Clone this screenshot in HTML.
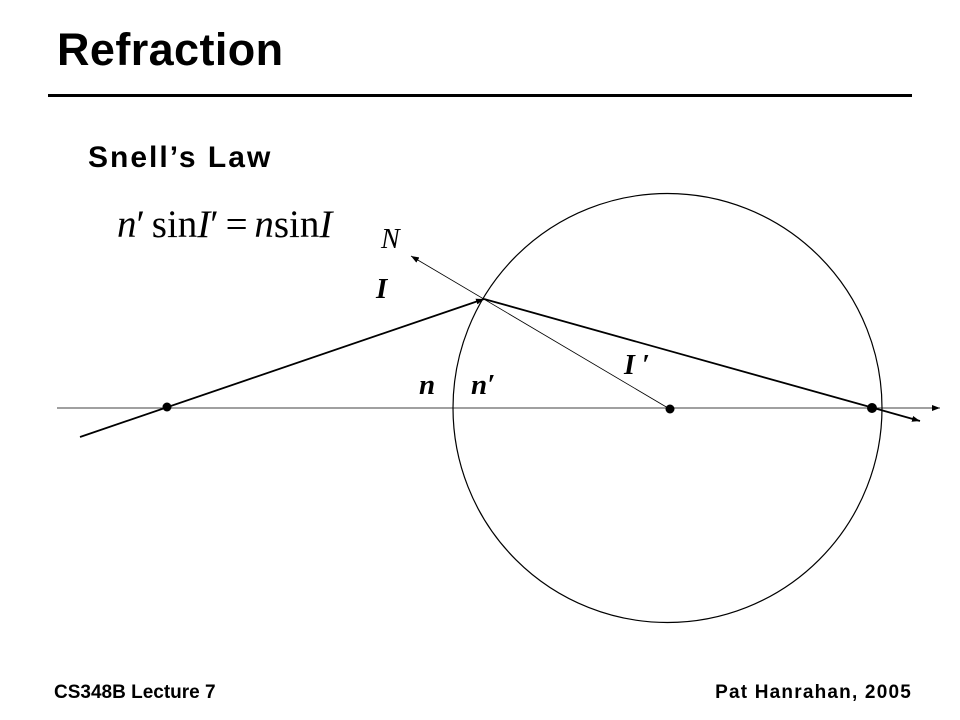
<!DOCTYPE html>
<html><head><meta charset="utf-8"><style>
html,body{margin:0;padding:0;background:#fff;}
body{width:960px;height:720px;position:relative;overflow:hidden;font-family:"Liberation Sans",sans-serif;}
.t{position:absolute;white-space:nowrap;color:#000;}
</style></head><body>
<div class="t" style="left:57px;top:24px;font-size:45px;font-weight:bold;letter-spacing:0.4px;">Refraction</div>
<div style="position:absolute;left:48px;top:94px;width:864px;height:3px;background:#000;"></div>
<div class="t" style="left:88px;top:141px;font-size:30px;font-weight:bold;letter-spacing:2px;">Snell’s Law</div>
<div class="t" style="left:117px;top:202px;font-size:39px;font-family:'Liberation Serif',serif;word-spacing:-3px;"><i>n</i>′ sin<i>I</i>′ = <i>n</i>sin<i>I</i></div>
<div class="t" style="left:54px;top:682px;font-size:19px;font-weight:bold;letter-spacing:0px;">CS348B Lecture 7</div>
<div class="t" style="right:48px;top:682px;font-size:19px;font-weight:bold;letter-spacing:1.2px;">Pat Hanrahan, 2005</div>
<svg width="960" height="720" style="position:absolute;left:0;top:0;" font-family="Liberation Serif, serif">
<defs>
<marker id="a" markerWidth="8" markerHeight="6" refX="8" refY="3" orient="auto" markerUnits="userSpaceOnUse"><path d="M0,0 L8,3 L0,6z" fill="#000"/></marker>
</defs>
<circle cx="667.5" cy="408" r="214.5" fill="none" stroke="#000" stroke-width="1.2"/>
<line x1="57" y1="408" x2="940" y2="408" stroke="#000" stroke-width="0.8" marker-end="url(#a)"/>
<line x1="668" y1="408" x2="411" y2="256" stroke="#000" stroke-width="0.8" marker-end="url(#a)"/>
<line x1="80" y1="437" x2="484" y2="299" stroke="#000" stroke-width="1.8" marker-end="url(#a)"/>
<line x1="484" y1="299" x2="920" y2="421" stroke="#000" stroke-width="1.8" marker-end="url(#a)"/>
<circle cx="167" cy="407" r="4.5" fill="#000"/>
<circle cx="670" cy="409" r="4.5" fill="#000"/>
<circle cx="872" cy="408" r="5" fill="#000"/>
<text x="381" y="248" font-size="28" font-style="italic">N</text>
<text x="376" y="298" font-size="29" font-style="italic" font-weight="bold">I</text>
<text x="419" y="394" font-size="29" font-style="italic" font-weight="bold">n</text>
<text x="471" y="394" font-size="29" font-style="italic" font-weight="bold">n′</text>
<text x="624" y="374" font-size="28" font-style="italic" font-weight="bold">I ′</text>
</svg>
</body></html>
